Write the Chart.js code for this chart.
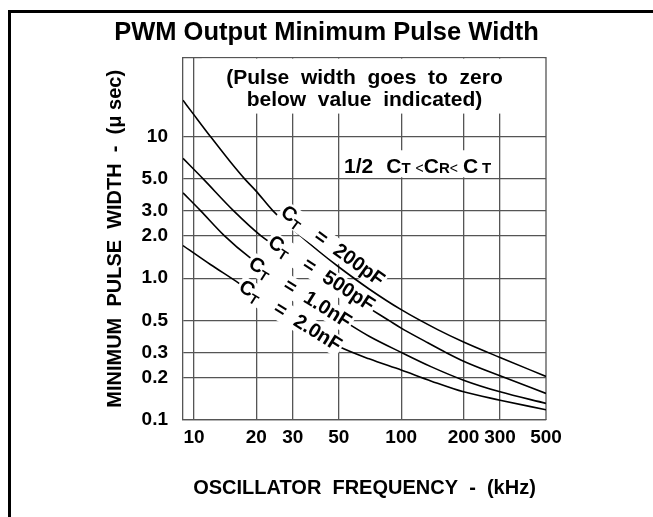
<!DOCTYPE html>
<html>
<head>
<meta charset="utf-8">
<script src="https://cdn.jsdelivr.net/npm/chart.js@4.4.1/dist/chart.umd.min.js"></script>
<style>
  html, body { margin: 0; padding: 0; background: #fff; }
  #wrap { position: relative; width: 653px; height: 517px; overflow: hidden; }
  #frame { position: absolute; left: 8px; top: 10px; width: 700px; height: 600px;
           border-left: 3px solid #000; border-top: 3px solid #000; }
  canvas { position: absolute; left: 0; top: 0; }
</style>
</head>
<body>
<div id="wrap">
  <div id="frame"></div>
  <canvas id="c" width="653" height="517"></canvas>
</div>
<script>
const FONT = "'Liberation Sans', Arial, Helvetica, sans-serif";

const TITLE = 'PWM Output Minimum Pulse Width';
const X_TITLE = 'OSCILLATOR  FREQUENCY  -  (kHz)';
const Y_TITLE = 'MINIMUM  PULSE  WIDTH  -  (μ sec)';

const xTicks = [10, 20, 30, 50, 100, 200, 300, 500];
const xTickLabels = ['10', '20', '30', '50', '100', '200', '300', '500'];
const yTicks = [0.1, 0.2, 0.3, 0.5, 1, 2, 3, 5, 10];
const yTickLabels = ['0.1', '0.2', '0.3', '0.5', '1.0', '2.0', '3.0', '5.0', '10'];

// one curve per timing capacitor, frequency in kHz, pulse width in usec
const seriesNames = ['200pF', '500pF', '1.0nF', '2.0nF'];
const freq200p = [8.85, 10, 12, 15, 17.6, 20, 24, 30, 40, 50, 70, 100, 150, 200, 300, 500];
const pw200p = [18, 14.2, 10, 6.6, 5.0, 4.1, 3.0, 2.22, 1.55, 1.2, 0.84, 0.60, 0.434, 0.355, 0.276, 0.203];
const freq500p = [8.85, 11.1, 15.5, 21, 30, 42, 60, 88, 100, 130, 164, 200, 300, 500];
const pw500p = [7.0, 5.0, 3.0, 2.0, 1.4, 1.0, 0.71, 0.5, 0.445, 0.36, 0.30, 0.26, 0.205, 0.154];
const freq1n = [8.85, 10.75, 14, 18.5, 25, 32.7, 45, 57, 70, 100, 140, 200, 300, 500];
const pw1n = [4.0, 3.0, 2.0, 1.41, 1.05, 0.80, 0.585, 0.467, 0.39, 0.30, 0.237, 0.191, 0.158, 0.131];
const freq2n = [8.85, 12, 16.5, 22, 30, 40, 50, 70, 100, 140, 200, 300, 500];
const pw2n = [1.7, 1.25, 0.92, 0.68, 0.51, 0.395, 0.33, 0.27, 0.225, 0.188, 0.158, 0.138, 0.118];

const noteLines = ['(Pulse  width  goes  to  zero', 'below  value  indicated)'];

// where the rotated curve labels sit (label centre, in data units)
const labelSpots = [
  { x: 47, y: 1.71, angle: 36 },
  { x: 41.5, y: 1.093, angle: 33 },
  { x: 32.7, y: 0.803, angle: 32 },
  { x: 29.3, y: 0.549, angle: 32 },
];

const toPoints = (xs, ys) => xs.map((x, i) => ({ x: x, y: ys[i] }));
const curves = [toPoints(freq200p, pw200p), toPoints(freq500p, pw500p),
                toPoints(freq1n, pw1n), toPoints(freq2n, pw2n)];

function partsWidth(ctx, parts) {
  let w = 0;
  parts.forEach(p => {
    if (p.gap) { w += p.gap; return; }
    ctx.font = (p.weight || 'bold') + ' ' + p.size + 'px ' + FONT;
    w += ctx.measureText(p.t).width;
  });
  return w;
}

function drawParts(ctx, parts, x, y) {
  let cx = x;
  parts.forEach(p => {
    if (p.gap) { cx += p.gap; return; }
    ctx.font = (p.weight || 'bold') + ' ' + p.size + 'px ' + FONT;
    ctx.fillText(p.t, cx, y + (p.dy || 0));
    cx += ctx.measureText(p.t).width;
  });
}

const notesPlugin = {
  id: 'notes',
  beforeDatasetsDraw(chart) {
    const { ctx, chartArea: a } = chart;
    ctx.save();
    ctx.strokeStyle = '#555';
    ctx.lineWidth = 1.3;
    ctx.beginPath();
    ctx.moveTo(a.left, a.top);
    ctx.lineTo(a.right, a.top);
    ctx.lineTo(a.right, a.bottom);
    ctx.stroke();
    ctx.restore();
  },
  afterDatasetsDraw(chart) {
    const { ctx, chartArea: a } = chart;
    const xs = chart.scales.x, ys = chart.scales.y;
    ctx.save();
    ctx.textBaseline = 'alphabetic';

    // top note, hides the upper grid lines
    const boxL = xs.getPixelForValue(10.9);
    const boxB = ys.getPixelForValue(14.5);
    ctx.fillStyle = '#fff';
    ctx.fillRect(boxL, a.top + 1, a.right - 2 - boxL, boxB - a.top - 1);
    ctx.fillStyle = '#000';
    ctx.textAlign = 'center';
    ctx.font = 'bold 21px ' + FONT;
    const cx = (a.left + a.right) / 2;
    ctx.fillText(noteLines[0], cx, a.top + 26);
    ctx.fillText(noteLines[1], cx, a.top + 48);

    // 1/2 CT < CR < CT
    ctx.textAlign = 'left';
    const ratio = [
      { t: '1/2', size: 21 }, { gap: 13 },
      { t: 'C', size: 21 }, { t: 'T', size: 15 }, { gap: 5 },
      { t: '<', size: 14, weight: 'normal' },
      { t: 'C', size: 21 }, { t: 'R', size: 15 },
      { t: '<', size: 14, weight: 'normal' }, { gap: 5 },
      { t: 'C', size: 21 }, { gap: 4 }, { t: 'T', size: 15 },
    ];
    const rx = xs.getPixelForValue(53);
    const ry = ys.getPixelForValue(5.5);
    const rw = partsWidth(ctx, ratio);
    ctx.fillStyle = '#fff';
    ctx.fillRect(rx - 3, ry - 23, rw + 6, 27);
    ctx.fillStyle = '#000';
    drawParts(ctx, ratio, rx, ry);

    // rotated curve labels
    seriesNames.forEach((name, i) => {
      const s = labelSpots[i];
      const parts = [
        { t: 'C', size: 20 }, { t: 'T', size: 14, dy: 4 }, { gap: 18 },
        { t: '=', size: 20 }, { gap: 12 }, { t: name, size: 20 },
      ];
      const w = partsWidth(ctx, parts);
      ctx.save();
      ctx.translate(xs.getPixelForValue(s.x), ys.getPixelForValue(s.y));
      ctx.rotate(s.angle * Math.PI / 180);
      ctx.fillStyle = '#fff';
      ctx.fillRect(-w / 2 - 2, -9, w + 4, 21);
      ctx.fillStyle = '#000';
      drawParts(ctx, parts, -w / 2, 7);
      ctx.restore();
    });
    ctx.restore();
  }
};

new Chart(document.getElementById('c'), {
  type: 'line',
  data: {
    datasets: curves.map((pts, i) => ({
      label: seriesNames[i],
      data: pts,
      borderColor: '#000',
      borderWidth: 1.6,
      pointRadius: 0,
      fill: false,
      cubicInterpolationMode: 'monotone',
    })),
  },
  options: {
    responsive: false,
    animation: false,
    layout: { padding: 0 },
    plugins: {
      legend: { display: false },
      tooltip: { enabled: false },
      title: {
        display: true, text: TITLE, color: '#000',
        font: { family: FONT, size: 25.5, weight: 'bold' },
        padding: { top: 18, bottom: 9 },
      },
    },
    scales: {
      x: {
        type: 'logarithmic', position: 'bottom', min: 8.85, max: 500,
        afterBuildTicks: s => { s.ticks = xTicks.map(v => ({ value: v })); },
        afterFit: s => { s.height = 97; },
        grid: {
          color: c => (c.tick && c.tick.value === 500) ? 'rgba(0,0,0,0)' : '#555',
          lineWidth: 1.3, drawTicks: false,
        },
        border: { display: true, color: '#555', width: 1.3 },
        ticks: {
          color: '#000', padding: 6, maxRotation: 0, autoSkip: false,
          font: { family: FONT, size: 19, weight: 'bold' },
          callback: v => xTickLabels[xTicks.indexOf(v)],
        },
        title: {
          display: true, text: X_TITLE, color: '#000',
          font: { family: FONT, size: 20, weight: 'bold' },
          padding: { top: 0, bottom: 17 },
        },
      },
      y: {
        type: 'logarithmic', position: 'left', min: 0.1, max: 36,
        afterBuildTicks: s => { s.ticks = yTicks.map(v => ({ value: v })); },
        afterFit: s => { s.width = 183; },
        grid: { color: '#555', lineWidth: 1.3, drawTicks: false },
        border: { display: true, color: '#555', width: 1.3 },
        ticks: {
          color: '#000', padding: 15, autoSkip: false,
          font: { family: FONT, size: 19, weight: 'bold' },
          callback: v => yTickLabels[yTicks.indexOf(v)],
        },
        title: {
          display: true, text: Y_TITLE, color: '#000',
          font: { family: FONT, size: 20, weight: 'bold' },
          padding: { top: 103, bottom: 0 },
        },
      },
      yR: {
        type: 'linear', position: 'right', display: true,
        grid: { display: false }, border: { display: false },
        ticks: { display: false },
        afterFit: s => { s.width = 107; },
      },
    },
  },
  plugins: [notesPlugin],
});
</script>
</body>
</html>
